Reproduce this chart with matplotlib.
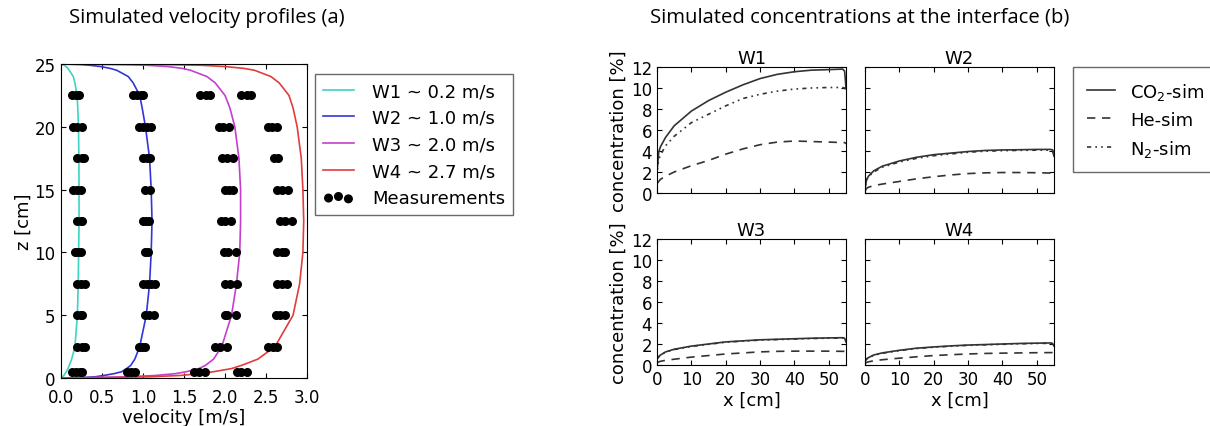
import matplotlib
matplotlib.use("Agg")
import matplotlib.pyplot as plt

plt.rcParams['font.family'] = ['DejaVu Sans']
plt.rcParams['xtick.direction'] = 'in'
plt.rcParams['ytick.direction'] = 'in'
plt.rcParams['xtick.top'] = True
plt.rcParams['ytick.right'] = True

# --- velocity profiles (a) ---
z_sim = [0, 0.05, 0.1, 0.2, 0.35, 0.5, 0.75, 1.0, 1.5, 2.5, 5, 7.5, 10, 12.5,
         15, 17.5, 20, 21.5, 22.5, 23.5, 24, 24.5, 24.65, 24.8, 24.9, 24.95, 25]
v_w1 = [0, 0.01, 0.02, 0.035, 0.05, 0.065, 0.085, 0.1, 0.13, 0.17, 0.2, 0.21, 0.215,
        0.22, 0.22, 0.218, 0.213, 0.205, 0.195, 0.17, 0.15, 0.1, 0.085, 0.06, 0.04, 0.02, 0]
v_w2 = [0, 0.3, 0.42, 0.52, 0.65, 0.74, 0.8, 0.85, 0.9, 0.96, 1.04, 1.08, 1.1,
        1.11, 1.1, 1.08, 1.03, 0.99, 0.96, 0.88, 0.82, 0.68, 0.6, 0.48, 0.35, 0.25, 0]
v_w3 = [0, 0.5, 0.8, 1.15, 1.4, 1.53, 1.68, 1.76, 1.86, 1.96, 2.08, 2.14, 2.18,
        2.19, 2.19, 2.17, 2.12, 2.06, 2.0, 1.88, 1.78, 1.58, 1.48, 1.3, 1.05, 0.8, 0]
v_w4 = [0, 0.7, 1.1, 1.45, 1.7, 1.86, 2.08, 2.2, 2.4, 2.61, 2.83, 2.91, 2.95,
        2.96, 2.95, 2.93, 2.88, 2.83, 2.78, 2.66, 2.56, 2.36, 2.23, 2.0, 1.7, 1.3, 0]

meas_z = [0.5, 2.5, 5, 7.5, 10, 12.5, 15, 17.5, 20, 22.5]
meas_w1 = [[0.13, 0.18, 0.23, 0.25], [0.2, 0.25, 0.29], [0.2, 0.24, 0.26],
           [0.19, 0.24, 0.29], [0.17, 0.21, 0.24], [0.2, 0.24, 0.26],
           [0.15, 0.2, 0.24], [0.2, 0.25, 0.28], [0.15, 0.2, 0.25], [0.14, 0.18, 0.22]]
meas_w2 = [[0.8, 0.85, 0.9], [0.95, 0.99, 1.03], [1.03, 1.07, 1.14],
           [1.0, 1.05, 1.1, 1.15], [1.03, 1.06], [1.0, 1.04, 1.07],
           [1.03, 1.08], [1.0, 1.05, 1.08], [0.95, 1.0, 1.05, 1.1], [0.88, 0.93, 0.98, 1.0]]
meas_w3 = [[1.62, 1.68, 1.76], [1.88, 1.94, 2.03], [2.0, 2.03, 2.14],
           [2.0, 2.06, 2.15], [1.99, 2.04, 2.14], [1.95, 2.0, 2.07],
           [2.0, 2.05, 2.1], [1.96, 2.02, 2.1], [1.93, 1.98, 2.05], [1.7, 1.77, 1.82]]
meas_w4 = [[2.15, 2.2, 2.27], [2.52, 2.58, 2.63], [2.62, 2.67, 2.73],
           [2.64, 2.7, 2.75], [2.64, 2.69, 2.73], [2.67, 2.73, 2.82],
           [2.64, 2.7, 2.77], [2.6, 2.65], [2.52, 2.57, 2.63], [2.2, 2.27, 2.32]]

vel_labels = ['W1 ~ 0.2 m/s', 'W2 ~ 1.0 m/s', 'W3 ~ 2.0 m/s', 'W4 ~ 2.7 m/s']
vel_colors = ['#3fd3c3', '#3434d8', '#c43fd0', '#e23c3c']

# --- concentrations (b) ---
x_conc = [0, 0.5, 1, 2.5, 5, 10, 15, 20, 25, 30, 35, 40, 45, 50, 54, 54.6, 55]
co2_w1 = [2.0, 3.9, 4.4, 5.3, 6.4, 7.8, 8.8, 9.6, 10.3, 10.9, 11.3, 11.55, 11.7, 11.75, 11.8, 11.6, 10.0]
he_w1 = [0.9, 1.1, 1.3, 1.6, 2.0, 2.6, 3.1, 3.7, 4.2, 4.6, 4.85, 4.95, 4.9, 4.85, 4.8, 4.8, 4.7]
n2_w1 = [2.0, 3.2, 3.6, 4.5, 5.4, 6.7, 7.5, 8.3, 9.0, 9.4, 9.7, 9.9, 10.0, 10.05, 10.05, 10.0, 9.8]
co2_w2 = [0.5, 1.3, 1.6, 2.1, 2.55, 3.05, 3.4, 3.65, 3.8, 3.95, 4.05, 4.1, 4.12, 4.15, 4.15, 4.1, 3.5]
he_w2 = [0.2, 0.45, 0.55, 0.7, 0.85, 1.1, 1.35, 1.55, 1.72, 1.85, 1.92, 1.95, 1.95, 1.93, 1.9, 1.9, 1.85]
n2_w2 = [0.5, 1.25, 1.55, 2.0, 2.45, 2.95, 3.3, 3.55, 3.72, 3.88, 3.98, 4.03, 4.06, 4.08, 4.08, 4.05, 3.5]
co2_w3 = [0.6, 0.8, 0.95, 1.25, 1.5, 1.8, 2.0, 2.2, 2.3, 2.4, 2.45, 2.5, 2.55, 2.58, 2.6, 2.55, 2.2]
he_w3 = [0.2, 0.3, 0.35, 0.45, 0.55, 0.75, 0.9, 1.05, 1.15, 1.25, 1.3, 1.32, 1.32, 1.32, 1.3, 1.3, 1.25]
n2_w3 = [0.57, 0.77, 0.92, 1.22, 1.47, 1.77, 1.97, 2.17, 2.27, 2.37, 2.42, 2.47, 2.52, 2.55, 2.57, 2.52, 2.2]
co2_w4 = [0.4, 0.6, 0.7, 0.95, 1.15, 1.4, 1.6, 1.72, 1.82, 1.9, 1.95, 2.0, 2.05, 2.08, 2.1, 2.05, 1.8]
he_w4 = [0.15, 0.25, 0.3, 0.4, 0.5, 0.65, 0.78, 0.9, 0.98, 1.05, 1.1, 1.13, 1.15, 1.17, 1.18, 1.18, 1.15]
n2_w4 = [0.37, 0.57, 0.67, 0.92, 1.12, 1.37, 1.57, 1.69, 1.79, 1.87, 1.92, 1.97, 2.02, 2.05, 2.07, 2.02, 1.8]

panel_names = ['W1', 'W2', 'W3', 'W4']
conc_co2 = [co2_w1, co2_w2, co2_w3, co2_w4]
conc_he = [he_w1, he_w2, he_w3, he_w4]
conc_n2 = [n2_w1, n2_w2, n2_w3, n2_w4]

W, H = 1210, 427
fig = plt.figure(figsize=(W / 100, H / 100), dpi=100)


def box(l, t, r, b):
    return [l / W, 1 - b / H, (r - l) / W, (b - t) / H]


# left panel
ax = fig.add_axes(box(61, 65, 307, 379))
for v, lab, col in zip([v_w1, v_w2, v_w3, v_w4], vel_labels, vel_colors):
    ax.plot(v, z_sim, color=col, lw=1.2, label=lab)
mx, my = [], []
for meas in [meas_w1, meas_w2, meas_w3, meas_w4]:
    for z, vals in zip(meas_z, meas):
        mx.extend(vals)
        my.extend([z] * len(vals))
ax.scatter(mx, my, s=30, color='black', edgecolors='black', zorder=3, label='Measurements')
ax.set_xlim(0, 3)
ax.set_ylim(0, 25)
ax.set_xticks([0, 0.5, 1, 1.5, 2, 2.5, 3])
ax.set_yticks([0, 5, 10, 15, 20, 25])
ax.tick_params(labelsize=12)
ax.tick_params(axis='x', pad=7)
ax.tick_params(axis='y', pad=4)
ax.set_xlabel('velocity [m/s]', fontsize=13, labelpad=2)
ax.set_ylabel('z [cm]', fontsize=13, labelpad=1)
fig.legend(*ax.get_legend_handles_labels(), loc='upper left', bbox_to_anchor=(315 / W, 1 - 75 / H),
           borderaxespad=0, fontsize=13, fancybox=False, edgecolor='#444', handlelength=1.7,
           handletextpad=1.0, borderpad=0.45, labelspacing=0.48, scatterpoints=3)

# right panels
boxes = [(657, 68, 846, 194), (865, 68, 1054, 194), (657, 240, 846, 366), (865, 240, 1054, 366)]
for i, (name, b) in enumerate(zip(panel_names, boxes)):
    a = fig.add_axes(box(*b))
    a.plot(x_conc, conc_co2[i], color='#333333', lw=1.2, label='CO$_2$-sim')
    a.plot(x_conc, conc_he[i], color='#333333', lw=1.2, ls=(0, (5, 4)), label='He-sim')
    a.plot(x_conc, conc_n2[i], color='#333333', lw=1.2, ls=(0, (2.5, 2.5, 1, 2.5, 1, 2.5)), label='N$_2$-sim')
    a.set_xlim(0, 55)
    a.set_ylim(0, 12)
    a.set_xticks([0, 10, 20, 30, 40, 50])
    a.set_yticks([0, 2, 4, 6, 8, 10, 12])
    a.tick_params(labelsize=12)
    a.set_title(name, fontsize=13, pad=2)
    if i < 2:
        a.set_xticklabels([])
    else:
        a.set_xlabel('x [cm]', fontsize=13, labelpad=2)
    if i % 2 == 1:
        a.set_yticklabels([])
    else:
        a.set_ylabel('concentration [%]', fontsize=13, labelpad=2)
    if i == 0:
        h, l = a.get_legend_handles_labels()
fig.legend(h, l, loc='upper left', bbox_to_anchor=(1073 / W, 1 - 68 / H), borderaxespad=0,
           fontsize=13, fancybox=False, edgecolor='#444', handlelength=1.6, handletextpad=0.8,
           borderpad=0.75, labelspacing=0.5)

fig.text(207 / W, 1 - 18 / H, 'Simulated velocity profiles (a)', family='Open Sans',
         fontsize=14.6, ha='center', va='center')
fig.text(860 / W, 1 - 18 / H, 'Simulated concentrations at the interface (b)', family='Open Sans',
         fontsize=14.6, ha='center', va='center')

fig.savefig('out.png', dpi=100)
